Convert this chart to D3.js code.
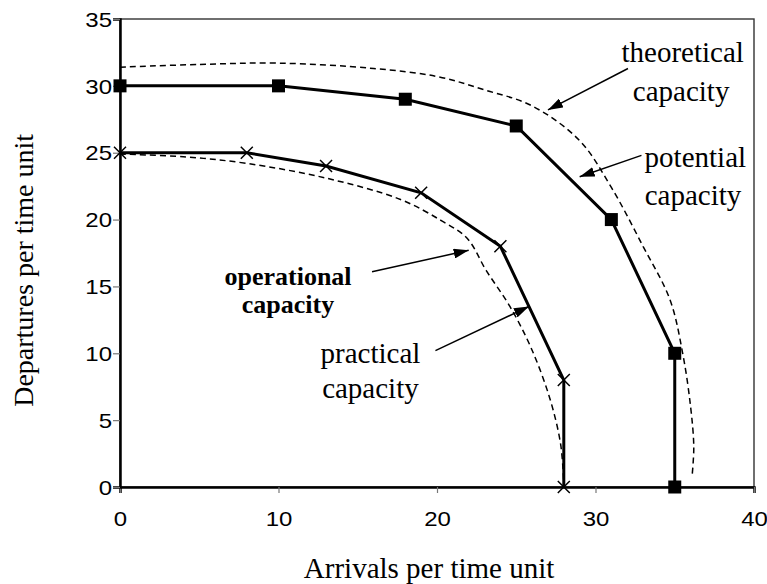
<!DOCTYPE html>
<html>
<head>
	<meta charset="utf-8">
	<title>Capacity envelopes</title>
	<style type="text/css">
body {
	margin: 0;
	background: white;
}
.envelope {
	fill: none;
	stroke: black;
	stroke-width: 1.5px;
	stroke-dasharray: 6 4;
}
.series {
	fill: none;
	stroke: black;
	stroke-width: 3px;
}
.arrow {
	stroke: black;
	stroke-width: 1.5px;
}
	</style>
</head>
<body>
	<div id="chart"></div>
	<script src="https://d3js.org/d3.v7.min.js"></script>
	<script type="text/javascript">

// potential capacity (square markers)
var potentialX = [0, 10, 18, 25, 31, 35, 35];
var potentialY = [30, 30, 29, 27, 20, 10, 0];

// practical capacity (cross markers)
var practicalX = [0, 8, 13, 19, 24, 28, 28];
var practicalY = [25, 25, 24, 22, 18, 8, 0];

// theoretical capacity envelope (dashed, outer)
var theoreticalX = [0, 5, 10, 16, 20, 23, 26, 29, 31, 33, 34.7, 35.5, 36, 36.2, 36.1];
var theoreticalY = [31.4, 31.6, 31.7, 31.3, 30.7, 29.7, 28.5, 25.9, 22.4, 18, 14, 10, 6, 3, 0.9];

// operational capacity envelope (dashed, inner)
var operationalX = [0, 4, 8, 13, 17.7, 20.3, 21.9, 23.1, 24.6, 25.9, 27.1, 27.8, 28];
var operationalY = [24.9, 24.7, 24.2, 23.1, 21.5, 19.9, 18.6, 16.2, 13.5, 10.5, 6.7, 3.2, 0.2];

var xTicks = [0, 10, 20, 30, 40];
var yTicks = [0, 5, 10, 15, 20, 25, 30, 35];

var serif = '"Liberation Serif", "Times New Roman", serif',
	sans = '"Liberation Sans", Arial, sans-serif';

var margin = {top: 19, right: 13, bottom: 97, left: 120},
	width = 767 - margin.left - margin.right,
	height = 584 - margin.top - margin.bottom;

var svg = d3.select("#chart")
	.append("svg")
	.attr("width", 767)
	.attr("height", 584)
	.append("g")
	.attr("transform", "translate(" + margin.left + "," + margin.top + ")");

var x = d3.scaleLinear().domain([0, 40]).range([0, width]);
var y = d3.scaleLinear().domain([0, 35]).range([height, 0]);

// plot frame
svg.append("rect")
	.attr("width", width)
	.attr("height", height)
	.attr("fill", "none")
	.attr("stroke", "#333")
	.attr("stroke-width", 1.4);

// axes
var xAxis = svg.append("g")
	.attr("transform", "translate(0," + height + ")")
	.call(d3.axisBottom(x).tickValues(xTicks).tickSize(6).tickPadding(19));
var yAxis = svg.append("g")
	.call(d3.axisLeft(y).tickValues(yTicks).tickSize(7));

[xAxis, yAxis].forEach(function(a) {
	a.select(".domain").attr("stroke", "black").attr("stroke-width", 2.5);
	a.selectAll(".tick line").attr("stroke", "#777").attr("stroke-width", 1.2);
	a.selectAll(".tick text")
		.style("font-family", sans)
		.style("font-size", "20px")
		.attr("fill", "black");
});
// tick labels in the picture are a little wide
xAxis.selectAll(".tick text").attr("transform", "scale(1.2,1)");
yAxis.selectAll(".tick text")
	.attr("x", -8 / 1.2)
	.attr("dy", "0.36em")
	.attr("transform", "scale(1.2,1)");

// axis titles
svg.append("text")
	.attr("x", x(19.5))
	.attr("y", height + 91)
	.attr("text-anchor", "middle")
	.style("font-family", serif)
	.style("font-size", "29px")
	.text("Arrivals per time unit");

svg.append("text")
	.attr("transform", "translate(" + (33 - margin.left) + "," + y(16.2) + ") rotate(-90)")
	.attr("text-anchor", "middle")
	.style("font-family", serif)
	.style("font-size", "28px")
	.text("Departures per time unit");

function zipXY(xs, ys) {
	return xs.map(function(v, i) { return [v, ys[i]]; });
}

var curve = d3.line()
	.x(function(d) { return x(d[0]); })
	.y(function(d) { return y(d[1]); })
	.curve(d3.curveCatmullRom.alpha(0.5));

var straight = d3.line()
	.x(function(d) { return x(d[0]); })
	.y(function(d) { return y(d[1]); });

// dashed envelopes
svg.append("path")
	.attr("class", "envelope")
	.attr("d", curve(zipXY(theoreticalX, theoreticalY)));
svg.append("path")
	.attr("class", "envelope")
	.attr("d", curve(zipXY(operationalX, operationalY)));

// solid series
var potential = zipXY(potentialX, potentialY);
var practical = zipXY(practicalX, practicalY);

svg.append("path").attr("class", "series").attr("d", straight(potential));
svg.append("path").attr("class", "series").attr("d", straight(practical));

svg.selectAll("rect.sq")
	.data(potential)
	.enter()
	.append("rect")
	.attr("class", "sq")
	.attr("x", function(d) { return x(d[0]) - 6.5; })
	.attr("y", function(d) { return y(d[1]) - 6.5; })
	.attr("width", 13)
	.attr("height", 13)
	.attr("fill", "black");

svg.selectAll("path.cross")
	.data(practical)
	.enter()
	.append("path")
	.attr("class", "cross")
	.attr("d", function(d) {
		var cx = x(d[0]), cy = y(d[1]), s = 6;
		return "M" + (cx - s) + "," + (cy - s) + "L" + (cx + s) + "," + (cy + s) +
			"M" + (cx - s) + "," + (cy + s) + "L" + (cx + s) + "," + (cy - s);
	})
	.attr("stroke", "black")
	.attr("stroke-width", 1.5);

// arrow heads
svg.append("defs").append("marker")
	.attr("id", "head")
	.attr("viewBox", "0 0 15 10")
	.attr("refX", 15)
	.attr("refY", 5)
	.attr("markerUnits", "userSpaceOnUse")
	.attr("markerWidth", 15)
	.attr("markerHeight", 10)
	.attr("orient", "auto")
	.append("path")
	.attr("d", "M0,0L15,5L0,10Z")
	.attr("fill", "black");

// annotations (data coordinates)
var arrows = [
	{from: [32.05, 31.3], to: [27.0, 28.2]},
	{from: [32.9, 24.8], to: [29.0, 23.2]},
	{from: [15.9, 16.1], to: [22.0, 17.7]},
	{from: [19.9, 10.2], to: [25.8, 13.5]}
];

svg.selectAll("line.arrow")
	.data(arrows)
	.enter()
	.append("line")
	.attr("class", "arrow")
	.attr("x1", function(d) { return x(d.from[0]); })
	.attr("y1", function(d) { return y(d.from[1]); })
	.attr("x2", function(d) { return x(d.to[0]); })
	.attr("y2", function(d) { return y(d.to[1]); })
	.attr("marker-end", "url(#head)");

var labels = [
	{text: "theoretical", at: [35.5, 31.8], bold: false},
	{text: "capacity", at: [35.4, 28.85], bold: false},
	{text: "potential", at: [36.3, 23.9], bold: false},
	{text: "capacity", at: [36.15, 21.1], bold: false},
	{text: "operational", at: [10.6, 15.1], bold: true},
	{text: "capacity", at: [10.6, 13.0], bold: true},
	{text: "practical", at: [15.8, 9.27], bold: false},
	{text: "capacity", at: [15.8, 6.65], bold: false}
];

svg.selectAll("text.label")
	.data(labels)
	.enter()
	.append("text")
	.attr("class", "label")
	.attr("x", function(d) { return x(d.at[0]); })
	.attr("y", function(d) { return y(d.at[1]); })
	.attr("text-anchor", "middle")
	.attr("fill", "black")
	.style("font-family", serif)
	.style("font-size", function(d) { return d.bold ? "26px" : "29px"; })
	.style("font-weight", function(d) { return d.bold ? "bold" : "normal"; })
	.text(function(d) { return d.text; });

	</script>
</body>
</html>
